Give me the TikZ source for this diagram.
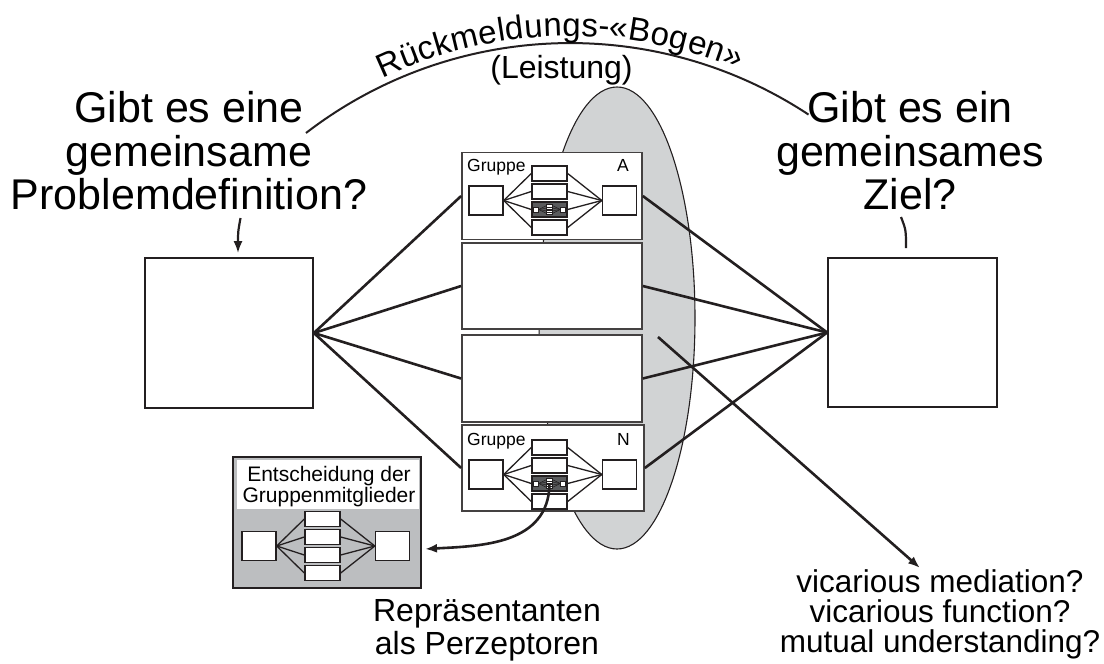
\documentclass[tikz,border=0pt]{standalone}
\usepackage{fontspec}
\setmainfont{Liberation Sans}
\usetikzlibrary{arrows.meta,decorations.text,shapes.geometric}
\definecolor{ellgray}{HTML}{D1D3D4}
\definecolor{boxgray}{HTML}{BCBEC0}
\definecolor{minidark}{HTML}{5A5B5D}
\definecolor{ink}{HTML}{231F20}
\newcommand\fs[2]{\fontsize{#1}{#2}\selectfont}
% #1 prefix, #2 origin (centre of left square), #3 = 1 for dark third row
\newcommand\flowgroup[3]{%
  \begin{scope}[shift={#2}]
    \node[sqbox] (#1l) at (0,0) {};
    \node[sqbox] (#1r) at (133.5,0) {};
    \foreach \i/\yy in {1/-27,2/-9,3/9,4/27}{%
      \node[midbox] (#1m\i) at (63.5,\yy) {};
      \draw[thinconn] (#1l.east) -- (#1m\i.west);
      \draw[thinconn] (#1m\i.east) -- (#1r.west);
    }
    \ifnum#3=1
      \node[midbox, fill=minidark] (#1d) at (63.5,9) {};
      \node[tinysq] (#1tl) at (50,9) {};
      \node[tinysq] (#1tr) at (77,9) {};
      \foreach \j/\yy in {1/5.2,2/7.6,3/10.4,4/12.8}{%
        \node[tinyrect] (#1t\j) at (63.5,\yy) {};
        \draw[line width=0.5pt, draw=ink] (#1tl.east) -- (#1t\j.west);
        \draw[line width=0.5pt, draw=ink] (#1t\j.east) -- (#1tr.west);
      }
    \fi
  \end{scope}}
\begin{document}
\begin{tikzpicture}[x=1pt,y=-1pt,
  conn/.style={draw=ink, line width=2.6pt},
  thinconn/.style={draw=ink, line width=1.3pt},
  bigbox/.style={draw=ink, line width=1.7pt, fill=white, inner sep=0pt},
  stackbox/.style={draw=ink!85, line width=1.7pt, fill=white, inner sep=0pt, minimum width=180pt},
  sqbox/.style={draw=ink, line width=1.4pt, fill=white, minimum width=34pt, minimum height=29pt, inner sep=0pt},
  midbox/.style={draw=ink, line width=1.4pt, fill=white, minimum width=35pt, minimum height=15pt, inner sep=0pt},
  tinysq/.style={draw=ink, line width=0.4pt, fill=white, minimum width=5pt, minimum height=5pt, inner sep=0pt},
  tinyrect/.style={draw=ink, line width=0.3pt, fill=white, minimum width=6pt, minimum height=2.2pt, inner sep=0pt},
  tip/.style={-{Latex[length=12pt,width=9pt]}},
  bigtext/.style={inner sep=0pt, align=center, font=\fs{43}{43.5}},
  midtext/.style={inner sep=0pt, align=center, font=\fs{31.5}{30}},
  grplabel/.style={inner sep=0pt, font=\fs{17.5}{17.5}},
]
\useasboundingbox (0,0) rectangle (1104,664);

% ellipse behind the stack
\node[ellipse, draw=ink, fill=ellgray, line width=1.1pt, minimum width=156pt, minimum height=462pt, inner sep=0pt] (E) at (617,318) {};

% big boxes
\node[bigbox, minimum width=168pt, minimum height=150pt] (L) at (229,333) {};
\node[bigbox, minimum width=169pt, minimum height=149pt] (R) at (912.5,332.5) {};

% stack
\node[stackbox, minimum height=87pt] (A) at (552,196) {};
\node[stackbox, minimum height=86pt] (B) at (552,286) {};
\node[stackbox, minimum height=87pt] (C) at (552,378.5) {};
\node[stackbox, minimum height=86pt, minimum width=182pt] (N) at (553,468) {};

\node[grplabel, anchor=base west] (Agr) at (467,171.5) {Gruppe};
\node[grplabel, anchor=base east] (Aid) at (629,171.5) {A};
\node[grplabel, anchor=base west] (Ngr) at (467,445) {Gruppe};
\node[grplabel, anchor=base east] (Nid) at (630,445) {N};
\flowgroup{A}{(486,200.5)}{1}
\flowgroup{N}{(486,474.5)}{1}

% decision box
\node[draw=ink, fill=boxgray, line width=1.4pt, minimum width=188pt, minimum height=131pt, inner sep=0pt] (D) at (327,522.5) {};
\node[fill=white, minimum width=182pt, minimum height=49pt, inner sep=0pt] (Dlab) at (328,484.5) {};
\node[inner sep=0pt, align=center, font=\fs{21}{21}] (Dtext) at (329,487) {Entscheidung der\\Gruppenmitglieder};
\flowgroup{D}{(259,546)}{0}

% connectors left
\foreach \t in {A,B,C,N}{\draw[conn] (L.east) -- (\t.west);}
% connectors right
\foreach \t in {A,B,C,N}{\draw[conn] (\t.east) -- (R.west);}

% texts
\node[bigtext, anchor=north] (Q1) at (189,91.5) {Gibt es eine\\gemeinsame\\Problemdefinition?};
\node[bigtext, anchor=north] (Q2) at (910,91.5) {Gibt es ein\\gemeinsames\\Ziel?};
\node[inner sep=0pt, font=\fs{32}{32}, anchor=base] (Leis) at (561.5,78) {(Leistung)};
\node[midtext, anchor=south, font=\fs{32}{33}] (Rep) at (487,661.5) {Repräsentanten\\als Perzeptoren};
\node[midtext, anchor=south] (Vic) at (940,659.5) {vicarious mediation?\\vicarious function?\\mutual understanding?};

% feedback arc
\coordinate (bl) at (306,133);
\draw[draw=ink, line width=2pt] (bl) arc[start angle=-127.6, end angle=-56.6, radius=433];
\path[decorate, decoration={text along path, text align=center, raise=7pt,
   text={|\fs{33}{33}|Rückmeldungs-«Bogen»}}]
   (bl) arc[start angle=-127.6, end angle=-55.2, radius=433];

% small pointers
\coordinate (pa) at (240.5,218);
\draw[conn, tip, line width=2.2pt, shorten >=4pt] (pa) .. controls (238,232) .. ([xshift=9pt]L.north);
\coordinate (za) at (901,217);
\draw[conn, line width=2.2pt, shorten >=9pt] (za) .. controls (906,230) .. ([xshift=-6.5pt]R.north);

% vicarious arrow
\coordinate (vs) at (658,337);
\coordinate (ve) at (920,568);
\draw[conn, tip] (vs) -- (ve);

% representation arrow
\coordinate (de) at (425,549);
\draw[conn, tip] (Nd.center) .. controls (549,545) and (480,546) .. (de);
\end{tikzpicture}
\end{document}
